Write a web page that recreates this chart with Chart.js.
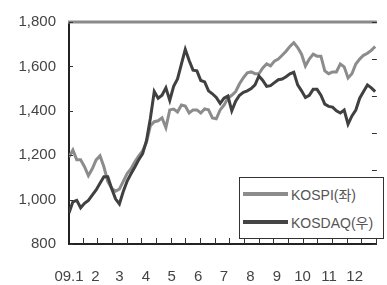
<!DOCTYPE html>
<html>
<head>
<meta charset="utf-8">
<script src="https://cdn.jsdelivr.net/npm/chart.js@4"></script>
<style>
  body { margin: 0; background: #fff; }
  #wrap { position: relative; width: 387px; height: 285px; }
  #legend {
    position: absolute; left: 239px; top: 177px; width: 143px; height: 60px;
    border: 1px solid #333; background: #fff;
    font: 14px "Liberation Sans", "Noto Sans CJK KR", sans-serif; color: #555;
  }
  .item { position: absolute; left: 3px; height: 16px; display: flex; align-items: center; white-space: nowrap; }
  .sw { display: inline-block; width: 45px; height: 4px; margin-right: 3px; }
</style>
</head>
<body>
<div id="wrap">
  <canvas id="c" width="387" height="285"></canvas>
  <div id="legend">
    <div class="item" style="top:8px"><span class="sw" style="background:#8c8c8c"></span>KOSPI(좌)</div>
    <div class="item" style="top:36px"><span class="sw" style="background:#444"></span>KOSDAQ(우)</div>
  </div>
</div>
<script>
// x axis: days since 2009-01-01, month labels at month starts
const monthStarts = [0, 31, 59, 90, 120, 151, 181, 212, 243, 273, 304, 334];
const monthLabels = ['09.1', '2', '3', '4', '5', '6', '7', '8', '9', '10', '11', '12'];
const leftTicks = [800, 1000, 1200, 1400, 1600, 1800];
const rightTicks = [300, 350, 400, 450, 500, 550, 600];

const kospi = [
  1192, 1223, 1179, 1179, 1148, 1108, 1139, 1179, 1197, 1148,
  1082, 1051, 1038, 1047, 1082, 1117, 1139, 1170, 1197, 1219,
  1258, 1333, 1351, 1355, 1368, 1324, 1404, 1408, 1395, 1426,
  1421, 1390, 1404, 1404, 1390, 1408, 1404, 1368, 1364, 1404,
  1426, 1456, 1470, 1487, 1522, 1549, 1571, 1575, 1567, 1567,
  1593, 1611, 1602, 1624, 1633, 1650, 1668, 1690, 1707, 1685,
  1655, 1602, 1633, 1655, 1646, 1646, 1580, 1567, 1575, 1575,
  1611, 1598, 1548, 1567, 1611, 1633, 1650, 1659, 1672, 1690
];
const kosdaq = [
  342, 357, 359, 349, 355, 359, 366, 373, 382, 391,
  391, 375, 361, 354, 371, 385, 395, 404, 414, 422,
  440, 470, 506, 497, 501, 511, 494, 513, 523, 543,
  563, 548, 535, 534, 521, 519, 507, 503, 498, 490,
  497, 500, 480, 493, 501, 505, 507, 510, 515, 527,
  521, 513, 514, 518, 522, 523, 526, 530, 532, 515,
  507, 498, 501, 509, 509, 501, 489, 486, 485, 480,
  477, 481, 462, 473, 481, 497, 506, 515, 511, 506
];
const lastDay = 358;

const dayOf = i => i * lastDay / (kospi.length - 1);
const toPoints = arr => arr.map((v, i) => ({ x: dayOf(i), y: v }));

const font = { family: '"Liberation Sans", "Noto Sans CJK KR", sans-serif', size: 15 };

// top gray rule + small inward tick marks
const frame = {
  id: 'frame',
  afterDatasetsDraw(chart) {
    const { ctx, chartArea: a, scales } = chart;
    ctx.save();
    ctx.strokeStyle = '#8a8a8a';
    ctx.lineWidth = 3;
    ctx.beginPath();
    ctx.moveTo(a.left - 1, a.top);
    ctx.lineTo(a.right, a.top);
    ctx.stroke();

    ctx.strokeStyle = '#333';
    ctx.lineWidth = 1;
    ctx.beginPath();
    const n = 21;
    for (let k = 1; k <= n; k++) {
      const x = Math.round(a.left + (a.right - a.left) * k / n) - 0.5;
      ctx.moveTo(x, a.bottom);
      ctx.lineTo(x, a.bottom - 6);
    }
    for (const v of leftTicks) {
      const y = Math.round(scales.y.getPixelForValue(v)) + 0.5;
      ctx.moveTo(a.left, y);
      ctx.lineTo(a.left + 4, y);
    }
    for (const v of rightTicks) {
      const y = Math.round(scales.y2.getPixelForValue(v)) + 0.5;
      ctx.moveTo(a.right, y);
      ctx.lineTo(a.right - 5, y);
    }
    ctx.stroke();
    ctx.restore();
  }
};

new Chart(document.getElementById('c'), {
  type: 'line',
  data: {
    datasets: [
      { label: 'KOSDAQ(우)', data: toPoints(kosdaq), yAxisID: 'y2', borderColor: '#404040', borderWidth: 3, pointRadius: 0, tension: 0 },
      { label: 'KOSPI(좌)', data: toPoints(kospi), yAxisID: 'y', borderColor: '#8c8c8c', borderWidth: 3, pointRadius: 0, tension: 0 }
    ]
  },
  options: {
    responsive: false,
    animation: false,
    devicePixelRatio: 1,
    layout: { padding: { top: 17, right: 0, bottom: 0, left: 0 } },
    plugins: { legend: { display: false }, tooltip: { enabled: false } },
    scales: {
      x: {
        type: 'linear', min: 0, max: 360,
        grid: { display: false, drawTicks: false },
        border: { display: true, color: '#222', width: 2 },
        afterBuildTicks: s => { s.ticks = monthStarts.map(v => ({ value: v })); },
        afterFit: s => { s.height = 41; },
        ticks: { padding: 24, font, color: '#444', maxRotation: 0, autoSkip: false, callback: (v, i) => monthLabels[i] }
      },
      y: {
        position: 'left', min: 800, max: 1800,
        grid: { display: false, drawTicks: false },
        border: { display: true, color: '#222', width: 2 },
        afterBuildTicks: s => { s.ticks = leftTicks.map(v => ({ value: v })); },
        afterFit: s => { s.width = 69; },
        ticks: { padding: 13, font, color: '#444', callback: v => v.toLocaleString('en-US') }
      },
      y2: { position: 'right', min: 300, max: 600, display: false }
    }
  },
  plugins: [frame]
});
</script>
</body>
</html>
